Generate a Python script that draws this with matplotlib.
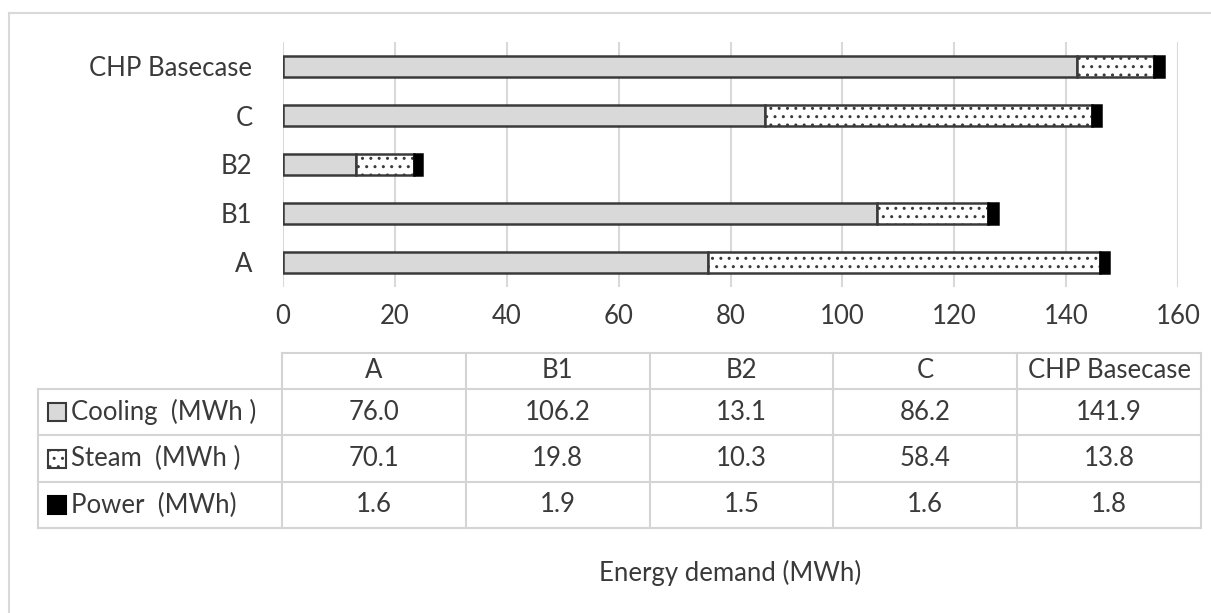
import numpy as np
import matplotlib
matplotlib.use('Agg')
import matplotlib.pyplot as plt
from matplotlib.patches import Rectangle

plt.rcParams['font.family'] = ['Lato', 'DejaVu Sans']
plt.rcParams['hatch.linewidth'] = 1.0

# scenario data (MWh)
scenarios = ['A', 'B1', 'B2', 'C', 'CHP Basecase']
cooling = [76.0, 106.2, 13.1, 86.2, 141.9]
steam = [70.1, 19.8, 10.3, 58.4, 13.8]
power = [1.6, 1.9, 1.5, 1.6, 1.8]
row_labels = ['Cooling  (MWh )', 'Steam  (MWh )', 'Power  (MWh)']
x_ticks = [0, 20, 40, 60, 80, 100, 120, 140, 160]

W, H = 1211, 613
txt = '#3a3a3a'
grid_c = '#d9d9d9'
edge_c = '#3a3a3a'
fs = 18.5

fig = plt.figure(figsize=(W / 100, H / 100), dpi=100)

# background layer in pixel coordinates for the frame and the data table
bg = fig.add_axes([0, 0, 1, 1])
bg.set_xlim(0, W)
bg.set_ylim(H, 0)
bg.axis('off')

# outer chart frame
bg.plot([9, W], [13, 13], color=grid_c, lw=1.5)
bg.plot([9, 9], [13, H], color=grid_c, lw=1.5)

# bar chart
x0, x1 = 283, 1178
y0, y1 = 42, 287
ax = fig.add_axes([x0 / W, 1 - y1 / H, (x1 - x0) / W, (y1 - y0) / H])
ax.set_xlim(0, 160)
ax.set_ylim(-0.5, 4.5)
for s in ax.spines.values():
    s.set_visible(False)
ax.set_xticks(x_ticks)
ax.set_xticklabels([str(t) for t in x_ticks])
ax.xaxis.grid(True, color=grid_c, lw=1.5)
ax.set_axisbelow(True)
ax.tick_params(axis='both', length=0, labelsize=fs, colors=txt)
ax.tick_params(axis='x', pad=12)
ax.tick_params(axis='y', pad=22)

ypos = np.arange(len(scenarios))
cool = np.array(cooling)
stm = np.array(steam)
pw = np.array(power)
bh = 0.42
ax.barh(ypos, cool, height=bh, color='#d9d9d9', edgecolor=edge_c, lw=1.8)
ax.barh(ypos, stm, left=cool, height=bh, color='white', edgecolor=edge_c,
        lw=1.8, hatch='..')
ax.barh(ypos, pw, left=cool + stm, height=bh, color='black', edgecolor='black', lw=1.8)
ax.set_yticks(ypos)
ax.set_yticklabels(scenarios)

# data table under the chart
tab_left, col0 = 38, 282
col_w = (1201 - 282) / 5
head_top, rows = 353, [389, 435, 482, 528]
line_c = '#d4d4d4'

# horizontal rules
bg.plot([col0, 1201], [head_top, head_top], color=line_c, lw=1.5)
for yy in rows:
    bg.plot([tab_left, 1201], [yy, yy], color=line_c, lw=1.5)
# vertical rules
bg.plot([tab_left, tab_left], [rows[0], rows[-1]], color=line_c, lw=1.5)
for i in range(6):
    xx = col0 + i * col_w
    bg.plot([xx, xx], [head_top, rows[-1]], color=line_c, lw=1.5)

for i, name in enumerate(scenarios):
    cx = col0 + (i + 0.5) * col_w
    bg.text(cx, (head_top + rows[0]) / 2, name, ha='center', va='center',
            fontsize=fs, color=txt)

series = [cooling, steam, power]
for r, vals in enumerate(series):
    cy = (rows[r] + rows[r + 1]) / 2
    for i, v in enumerate(vals):
        cx = col0 + (i + 0.5) * col_w
        bg.text(cx, cy, f'{v:.1f}', ha='center', va='center', fontsize=fs, color=txt)
    bg.text(71, cy, row_labels[r], ha='left', va='center', fontsize=fs, color=txt)

# legend keys in the row label column
key_styles = [dict(facecolor='#d9d9d9', edgecolor=edge_c, hatch=None),
              dict(facecolor='white', edgecolor=edge_c, hatch='..'),
              dict(facecolor='black', edgecolor='black', hatch=None)]
for r, st in enumerate(key_styles):
    cy = (rows[r] + rows[r + 1]) / 2
    bg.add_patch(Rectangle((48, cy - 9), 18, 18, lw=1.5, **st))

bg.text((x0 + x1) / 2, 573, 'Energy demand (MWh)', ha='center', va='center',
        fontsize=fs, color=txt)

fig.savefig('out.png', dpi=100)
